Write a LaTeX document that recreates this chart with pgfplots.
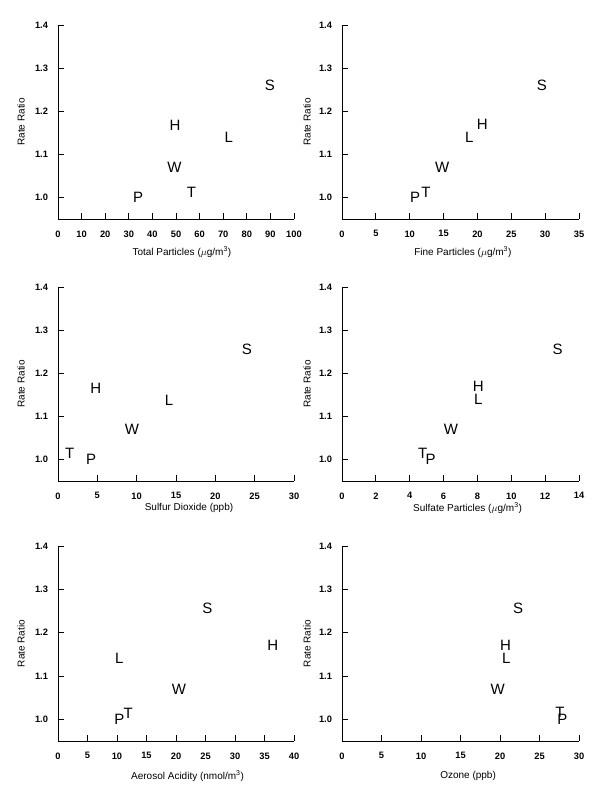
\documentclass[border=0pt]{standalone}
\usepackage{fontspec}
\setmainfont{Liberation Sans}
\usepackage{pgfplots}
\pgfplotsset{compat=1.18}
\begin{document}
\begin{tikzpicture}[x=1pt,y=1pt]
\useasboundingbox (0,0) rectangle (600,791);
\pgfplotsset{
  six/.style={
    scale only axis, width=236pt, height=194pt,
    axis x line*=bottom, axis y line*=left,
    anchor=south west,
    ymin=0.95, ymax=1.4, ytick={1.0,1.1,1.2,1.3,1.4},
    yticklabel style={/pgf/number format/fixed, /pgf/number format/fixed zerofill, /pgf/number format/precision=1},
    /pgf/number format/assume math mode=true,
    tick align=inside, major tick length=6pt,
    axis line style={line width=0.8pt},
    every tick/.style={line width=0.8pt, black},
    tick label style={font=\fontsize{9.3}{11}\selectfont\bfseries},
    yticklabel style={xshift=-6.5pt},
    xticklabel style={yshift=-8pt},
    label style={font=\fontsize{11}{13}\selectfont},
    ylabel={Rate Ratio},
    clip=false,
  },
  letters/.style={only marks, mark=none, nodes near coords,
    point meta=explicit symbolic, nodes near coords align={center},
    every node near coord/.append style={font=\fontsize{15}{17}\selectfont, anchor=center, inner sep=0pt}},
}
% Panel 1
\begin{axis}[six, at={(58pt,572pt)}, xmin=0, xmax=100, xtick={0,10,...,100},
  xlabel={Total Particles ($\mu$g/m\textsuperscript{3})},
  every axis x label/.style={at={(axis description cs:0.525,-0.170)}, anchor=center},
  every axis y label/.style={at={(axis description cs:-0.157,0.5)}, anchor=center, rotate=90}]
\addplot[letters] table[meta=l] {
x y l
34.0 1.000 P
56.5 1.012 T
49.3 1.070 W
49.6 1.167 H
72.4 1.140 L
89.8 1.260 S
};
\end{axis}
% Panel 2
\begin{axis}[six, at={(342pt,572pt)}, width=237pt, xmin=0, xmax=35, xtick={0,5,...,35},
  xlabel={Fine Particles ($\mu$g/m\textsuperscript{3})},
  every axis x label/.style={at={(axis description cs:0.51,-0.170)}, anchor=center},
  every axis y label/.style={at={(axis description cs:-0.148,0.5)}, anchor=center, rotate=90}]
\addplot[letters] table[meta=l] {
x y l
10.8 1.000 P
12.4 1.012 T
14.8 1.070 W
18.8 1.140 L
20.7 1.170 H
29.5 1.260 S
};
\end{axis}
% Panel 3
\begin{axis}[six, at={(58pt,310pt)}, xmin=0, xmax=30, xtick={0,5,...,30},
  xlabel={Sulfur Dioxide (ppb)},
  every axis x label/.style={at={(axis description cs:0.555,-0.139)}, anchor=center},
  every axis y label/.style={at={(axis description cs:-0.157,0.5)}, anchor=center, rotate=90}]
\addplot[letters] table[meta=l] {
x y l
1.5 1.014 T
4.2 1.000 P
4.8 1.165 H
9.4 1.070 W
14.1 1.138 L
24.0 1.255 S
};
\end{axis}
% Panel 4
\begin{axis}[six, at={(342pt,310pt)}, width=237pt, xmin=0, xmax=14, xtick={0,2,...,14},
  xlabel={Sulfate Particles ($\mu$g/m\textsuperscript{3})},
  every axis x label/.style={at={(axis description cs:0.53,-0.139)}, anchor=center},
  every axis y label/.style={at={(axis description cs:-0.148,0.5)}, anchor=center, rotate=90}]
\addplot[letters] table[meta=l] {
x y l
4.77 1.014 T
5.24 1.000 P
6.44 1.070 W
8.05 1.170 H
8.05 1.140 L
12.74 1.255 S
};
\end{axis}
% Panel 5
\begin{axis}[six, at={(58pt,50pt)}, height=195pt, xmin=0, xmax=40, xtick={0,5,...,40},
  xlabel={Aerosol Acidity (nmol/m\textsuperscript{3})},
  every axis x label/.style={at={(axis description cs:0.549,-0.18)}, anchor=center},
  every axis y label/.style={at={(axis description cs:-0.157,0.5)}, anchor=center, rotate=90}]
\addplot[letters] table[meta=l] {
x y l
10.4 1.000 P
11.9 1.014 T
10.4 1.140 L
20.5 1.070 W
25.3 1.255 S
36.4 1.170 H
};
\end{axis}
% Panel 6
\begin{axis}[six, at={(342pt,50pt)}, width=237pt, height=195pt, xmin=0, xmax=30, xtick={0,5,...,30},
  xlabel={Ozone (ppb)},
  every axis x label/.style={at={(axis description cs:0.532,-0.18)}, anchor=center},
  every axis y label/.style={at={(axis description cs:-0.148,0.5)}, anchor=center, rotate=90}]
\addplot[letters] table[meta=l] {
x y l
19.7 1.070 W
20.7 1.170 H
20.8 1.140 L
22.3 1.255 S
27.6 1.015 T
27.9 1.000 P
};
\end{axis}
\end{tikzpicture}
\end{document}
